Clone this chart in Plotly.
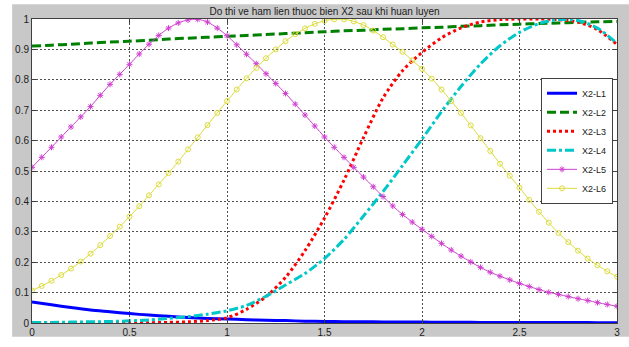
import plotly.graph_objects as go

# ---------------- data ----------------
x_coarse = [0.0, 0.1, 0.2, 0.3, 0.4, 0.5, 0.6, 0.7, 0.8, 0.9,
            1.0, 1.1, 1.2, 1.3, 1.4, 1.5, 1.6, 1.7, 1.8, 1.9,
            2.0, 2.1, 2.2, 2.3, 2.4, 2.5, 2.6, 2.7, 2.8, 2.9, 3.0]

x_fine = [0.0, 0.05, 0.1, 0.15, 0.2, 0.25, 0.3, 0.35, 0.4, 0.45,
          0.5, 0.55, 0.6, 0.65, 0.7, 0.75, 0.8, 0.85, 0.9, 0.95,
          1.0, 1.05, 1.1, 1.15, 1.2, 1.25, 1.3, 1.35, 1.4, 1.45,
          1.5, 1.55, 1.6, 1.65, 1.7, 1.75, 1.8, 1.85, 1.9, 1.95,
          2.0, 2.05, 2.1, 2.15, 2.2, 2.25, 2.3, 2.35, 2.4, 2.45,
          2.5, 2.55, 2.6, 2.65, 2.7, 2.75, 2.8, 2.85, 2.9, 2.95, 3.0]

l1 = [0.069, 0.060, 0.051, 0.043, 0.037, 0.031, 0.026, 0.022, 0.018, 0.015,
      0.013, 0.011, 0.009, 0.008, 0.006, 0.005, 0.0045, 0.004, 0.0035, 0.003,
      0.003, 0.0025, 0.0025, 0.002, 0.002, 0.002, 0.0015, 0.0015, 0.0015, 0.001, 0.001]

l2 = [0.911, 0.914, 0.917, 0.921, 0.924, 0.927, 0.930, 0.934, 0.937, 0.940,
      0.943, 0.946, 0.949, 0.952, 0.955, 0.958, 0.961, 0.963, 0.966, 0.968,
      0.971, 0.973, 0.976, 0.978, 0.981, 0.983, 0.985, 0.987, 0.989, 0.991, 0.992]

l3 = [0.0, 0.0, 0.0, 0.0, 0.0, 0.0, 0.001, 0.002, 0.004, 0.008,
      0.017, 0.045, 0.087, 0.150, 0.238, 0.345, 0.470, 0.610, 0.740, 0.830,
      0.890, 0.938, 0.971, 0.990, 0.998, 1.000, 1.000, 0.998, 0.990, 0.965, 0.916]

l4 = [0.002, 0.002, 0.003, 0.004, 0.005, 0.007, 0.010, 0.015, 0.021, 0.029,
      0.040, 0.058, 0.088, 0.125, 0.163, 0.212, 0.275, 0.352, 0.432, 0.518,
      0.605, 0.695, 0.778, 0.852, 0.912, 0.956, 0.985, 0.998, 0.995, 0.970, 0.920]

l5 = [0.512, 0.545, 0.578, 0.612, 0.645, 0.678, 0.712, 0.749, 0.785, 0.818,
      0.851, 0.885, 0.917, 0.946, 0.970, 0.987, 0.997, 0.999, 0.990, 0.970,
      0.945, 0.915, 0.884, 0.853, 0.820, 0.788, 0.755, 0.720, 0.684, 0.648,
      0.612, 0.578, 0.545, 0.512, 0.480, 0.448, 0.416, 0.385, 0.357, 0.332,
      0.308, 0.285, 0.262, 0.240, 0.220, 0.201, 0.183, 0.167, 0.154, 0.142,
      0.130, 0.120, 0.110, 0.101, 0.094, 0.087, 0.080, 0.074, 0.067, 0.061, 0.055]

l6 = [0.107, 0.122, 0.139, 0.158, 0.179, 0.202, 0.228, 0.256, 0.286, 0.317,
      0.350, 0.384, 0.420, 0.456, 0.493, 0.531, 0.571, 0.611, 0.651, 0.691,
      0.730, 0.768, 0.805, 0.839, 0.871, 0.900, 0.927, 0.950, 0.969, 0.984,
      0.994, 0.999, 0.999, 0.992, 0.980, 0.962, 0.940, 0.916, 0.892, 0.864,
      0.836, 0.804, 0.768, 0.730, 0.691, 0.650, 0.608, 0.566, 0.524, 0.484,
      0.445, 0.405, 0.366, 0.330, 0.296, 0.266, 0.238, 0.212, 0.190, 0.170, 0.152]

series_names = ["X2-L1", "X2-L2", "X2-L3", "X2-L4", "X2-L5", "X2-L6"]
x_ticks = [0, 0.5, 1, 1.5, 2, 2.5, 3]
x_tick_text = ["0", "0.5", "1", "1.5", "2", "2.5", "3"]
y_ticks = [0, 0.1, 0.2, 0.3, 0.4, 0.5, 0.6, 0.7, 0.8, 0.9, 1]
y_tick_text = ["0", "0.1", "0.2", "0.3", "0.4", "0.5", "0.6", "0.7", "0.8", "0.9", "1"]
title_text = "Do thi ve ham lien thuoc bien X2 sau khi huan luyen"

# ---------------- figure ----------------
W, H = 629, 347
ML, MR, MT, MB = 32, 9, 19, 18
PW, PH = W - ML - MR, H - MT - MB

FONT = "Liberation Sans, Arial, sans-serif"
fig = go.Figure()

fig.add_trace(go.Scatter(x=x_coarse, y=l1, name=series_names[0], mode="lines",
                         line=dict(color="#0000ff", width=3, shape="spline", smoothing=0.8)))
fig.add_trace(go.Scatter(x=x_coarse, y=l2, name=series_names[1], mode="lines",
                         line=dict(color="#008000", width=3, dash="9px,4px", shape="spline", smoothing=0.8)))
fig.add_trace(go.Scatter(x=x_coarse, y=l3, name=series_names[2], mode="lines",
                         line=dict(color="#ff0000", width=3, dash="3px,3px", shape="spline", smoothing=0.8)))
fig.add_trace(go.Scatter(x=x_coarse, y=l4, name=series_names[3], mode="lines",
                         line=dict(color="#00c8c8", width=3, dash="9px,3px,3px,3px", shape="spline", smoothing=0.8)))
fig.add_trace(go.Scatter(x=x_fine, y=l5, name=series_names[4], mode="lines+markers",
                         line=dict(color="#d040d0", width=1, shape="spline", smoothing=0.8),
                         marker=dict(symbol="asterisk-open", size=5, color="#d040d0",
                                     line=dict(color="#d040d0", width=1))))
fig.add_trace(go.Scatter(x=x_fine, y=l6, name=series_names[5], mode="lines+markers",
                         line=dict(color="#dcdc3c", width=1, shape="spline", smoothing=0.8),
                         marker=dict(symbol="circle-open", size=5, color="#dcdc3c",
                                     line=dict(color="#dcdc3c", width=1))))

def fy(px):
    return (H - MB - px) / PH

def fx(px):
    return (px - ML) / PW

# white outer margins around the grey figure area
shapes = [
    dict(type="rect", xref="paper", yref="paper", x0=-1, x1=fx(12), y0=-1, y1=2,
         fillcolor="white", line=dict(width=0), layer="below"),
    dict(type="rect", xref="paper", yref="paper", x0=-1, x1=2, y0=fy(4), y1=2,
         fillcolor="white", line=dict(width=0), layer="below"),
    dict(type="rect", xref="paper", yref="paper", x0=-1, x1=2, y0=-1, y1=fy(343),
         fillcolor="white", line=dict(width=0), layer="below"),
]

axis_common = dict(
    showline=True, linecolor="#404040", linewidth=1, mirror="ticks",
    ticks="inside", ticklen=4, tickcolor="#404040", tickwidth=1,
    showgrid=True, gridcolor="#505050", gridwidth=1, griddash="2px,2px",
    zeroline=False, tickfont=dict(family=FONT, size=10, color="#202020"),
)

fig.update_layout(
    width=W, height=H,
    margin=dict(l=ML, r=MR, t=MT, b=MB, pad=0),
    paper_bgcolor="#c8c8c8",
    plot_bgcolor="white",
    shapes=shapes,
    title=dict(text=title_text, x=0.5, xref="paper", xanchor="center",
               y=1 - 11 / H, yref="container", yanchor="middle",
               font=dict(family=FONT, size=10, color="#202020")),
    xaxis=dict(range=[0, 3], tickvals=x_ticks, ticktext=x_tick_text, **axis_common),
    yaxis=dict(range=[0, 1], tickvals=y_ticks, ticktext=y_tick_text, **axis_common),
    legend=dict(x=fx(616), xanchor="right", y=fy(79), yanchor="top",
                bgcolor="white", bordercolor="#404040", borderwidth=1,
                font=dict(family=FONT, size=9, color="#202020"),
                itemwidth=30, tracegroupgap=0),
    showlegend=True,
)

fig.write_html("out.html")
